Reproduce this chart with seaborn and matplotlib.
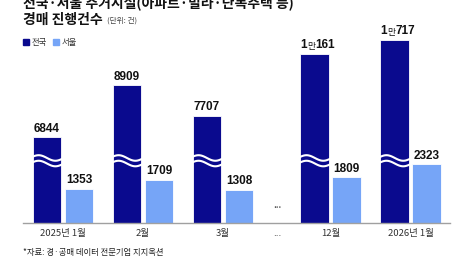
import numpy as np
import pandas as pd
import matplotlib
matplotlib.use("Agg")
import matplotlib.pyplot as plt
from matplotlib.patches import Rectangle
import seaborn as sns

# ---- data ----
months = ["2025년 1월", "2월", "3월", "12월", "2026년 1월"]
national = [6844, 8909, 7707, 10161, 10717]
seoul = [1353, 1709, 1308, 1809, 2323]
national_labels = ["6844", "8909", "7707", "1만161", "1만717"]
seoul_labels = ["1353", "1709", "1308", "1809", "2323"]
series_names = ["전국", "서울"]

# ---- layout / style params ----
positions = [0, 1, 2, 3.35, 4.35]
gap_pos = 2.675
offset = 0.2
axis_break = 3450  # national bars are drawn with a broken axis
c_nat = "#0a0a8e"
c_seo = "#76a5f7"

sns.set_theme(style="white")
plt.rcParams["font.family"] = ["Noto Sans CJK KR", "DejaVu Sans"]
num_font = ["Liberation Sans", "Noto Sans CJK KR", "DejaVu Sans"]

rows = []
for p, n, s in zip(positions, national, seoul):
    rows.append({"x": p - offset, "h": n - axis_break, "series": series_names[0]})
    rows.append({"x": p + offset, "h": s, "series": series_names[1]})
df = pd.DataFrame(rows)

fig = plt.figure(figsize=(4.73, 2.64), dpi=100)
ax = fig.add_axes([23 / 473, 41 / 264, 427 / 473, 188 / 264])
sns.barplot(data=df, x="x", y="h", hue="series", native_scale=True, dodge=False,
            palette=[c_nat, c_seo], width=0.9, ax=ax, legend=False, saturation=1,
            edgecolor="white", linewidth=0.6)
ax.set_xlim(-0.5, 4.84)
ax.set_ylim(0, 7460)
ax.set_xlabel("")
ax.set_ylabel("")
ax.set_yticks([])
for s in ["top", "right", "left"]:
    ax.spines[s].set_visible(False)
ax.spines["bottom"].set_color("#a0a0a0")
ax.spines["bottom"].set_linewidth(1.0)
ax.set_xticks(positions + [gap_pos])
ax.set_xticklabels(months + ["..."], fontsize=6.8, color="#333333")
ax.tick_params(axis="x", length=0, pad=4)

lab_kw = dict(fontsize=8.5, fontweight="bold", color="#111111", family=num_font)

# value labels
for p, n, lab in zip(positions, national, national_labels):
    y = n - axis_break
    if "만" in lab:
        a, b = lab.split("만")
        t = ax.annotate("만", xy=(p - offset - 0.05, y), xytext=(0, 2), textcoords="offset points",
                        ha="center", va="bottom", fontsize=6.3, color="#111111")
        ax.annotate(a, xy=(0, 0.05), xycoords=t, xytext=(0.2, 0), textcoords="offset points",
                    ha="right", va="bottom", **lab_kw)
        ax.annotate(b, xy=(1, 0.05), xycoords=t, xytext=(0.2, 0), textcoords="offset points",
                    ha="left", va="bottom", **lab_kw)
    else:
        ax.annotate(lab, xy=(p - offset, y), xytext=(0, 2), textcoords="offset points",
                    ha="center", va="bottom", **lab_kw)
for p, s, lab in zip(positions, seoul, seoul_labels):
    ax.annotate(lab, xy=(p + offset, s), xytext=(0, 2), textcoords="offset points",
                ha="center", va="bottom", **lab_kw)

# break waves
t = np.linspace(0, 1, 60)
for p in positions:
    x0 = p - offset - 0.21
    xs = x0 + t * 0.42
    for yc in (2580, 2360):
        ax.plot(xs, yc + 110 * np.sin(2 * np.pi * t), color="white", lw=1.5,
                solid_capstyle="butt", zorder=5)

ax.text(gap_pos, 714, "...", ha="center", va="center", fontsize=7, color="#333333")

# titles
fig.text(23 / 473, 1 - 3 / 264, "전국·서울 주거시설(아파트·빌라·단독주택 등)", ha="left",
         va="center", fontsize=10, fontweight="bold", color="#111111")
fig.text(23 / 473, 1 - 20 / 264, "경매 진행건수", ha="left", va="center", fontsize=10,
         fontweight="bold", color="#111111")
fig.text(107 / 473, 1 - 21 / 264, "(단위: 건)", ha="left", va="center", fontsize=5.5,
         color="#444444")

# legend
for xpx, name, col in [(23, series_names[0], c_nat), (53, series_names[1], c_seo)]:
    fig.patches.append(Rectangle((xpx / 473, 1 - 45 / 264), 6 / 473, 6 / 264,
                                 transform=fig.transFigure, color=col))
    fig.text((xpx + 9) / 473, 1 - 42 / 264, name, ha="left", va="center",
             fontsize=6, color="#333333")

fig.text(23 / 473, 1 - 252 / 264, "*자료: 경·공매 데이터 전문기업 지지옥션", ha="left",
         va="center", fontsize=6, color="#222222")

fig.savefig("out.png", dpi=100, facecolor="white")
